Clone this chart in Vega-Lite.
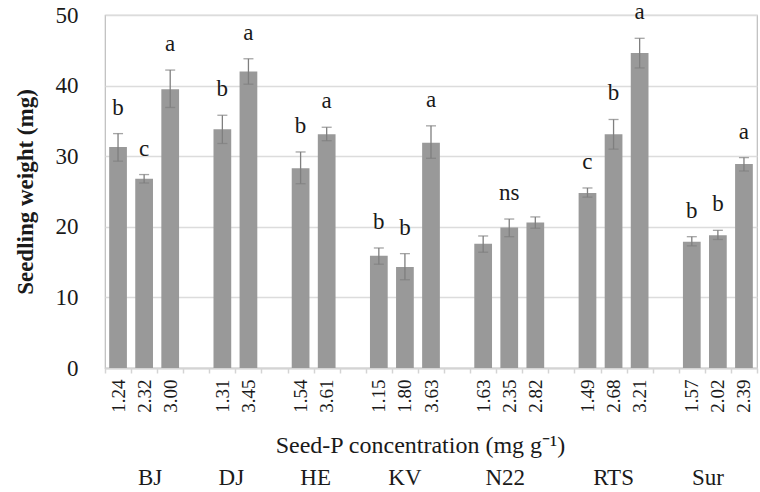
{
  "$schema": "https://vega.github.io/schema/vega-lite/v6.json",
  "width": 652,
  "height": 353,
  "autosize": {"type": "none"},
  "padding": {"left": 105, "top": 15, "right": 3, "bottom": 124},
  "background": "white",
  "config": {
    "view": {"stroke": "#bdbdbd", "strokeWidth": 1.2},
    "font": "Liberation Serif"
  },
  "data": {
    "values": [
      {"genotype": "BJ", "conc": "1.24", "weight": 31.3, "lower": 29.3, "upper": 33.2, "letter": "b"},
      {"genotype": "BJ", "conc": "2.32", "weight": 26.8, "lower": 26.2, "upper": 27.4, "letter": "c"},
      {"genotype": "BJ", "conc": "3.00", "weight": 39.5, "lower": 36.9, "upper": 42.2, "letter": "a"},
      {"genotype": "DJ", "conc": "1.31", "weight": 33.8, "lower": 31.8, "upper": 35.8, "letter": "b"},
      {"genotype": "DJ", "conc": "3.45", "weight": 42.0, "lower": 40.2, "upper": 43.8, "letter": "a"},
      {"genotype": "HE", "conc": "1.54", "weight": 28.3, "lower": 26.1, "upper": 30.6, "letter": "b"},
      {"genotype": "HE", "conc": "3.61", "weight": 33.1, "lower": 32.2, "upper": 34.1, "letter": "a"},
      {"genotype": "KV", "conc": "1.15", "weight": 15.9, "lower": 14.7, "upper": 17.0, "letter": "b"},
      {"genotype": "KV", "conc": "1.80", "weight": 14.3, "lower": 12.5, "upper": 16.2, "letter": "b"},
      {"genotype": "KV", "conc": "3.63", "weight": 31.9, "lower": 29.7, "upper": 34.3, "letter": "a"},
      {"genotype": "N22", "conc": "1.63", "weight": 17.6, "lower": 16.4, "upper": 18.7, "letter": ""},
      {"genotype": "N22", "conc": "2.35", "weight": 19.9, "lower": 18.6, "upper": 21.1, "letter": "ns"},
      {"genotype": "N22", "conc": "2.82", "weight": 20.6, "lower": 19.8, "upper": 21.4, "letter": ""},
      {"genotype": "RTS", "conc": "1.49", "weight": 24.8, "lower": 24.2, "upper": 25.5, "letter": "c"},
      {"genotype": "RTS", "conc": "2.68", "weight": 33.1, "lower": 31.0, "upper": 35.2, "letter": "b"},
      {"genotype": "RTS", "conc": "3.21", "weight": 44.6, "lower": 42.5, "upper": 46.7, "letter": "a"},
      {"genotype": "Sur", "conc": "1.57", "weight": 17.9, "lower": 17.3, "upper": 18.6, "letter": "b"},
      {"genotype": "Sur", "conc": "2.02", "weight": 18.8, "lower": 18.2, "upper": 19.5, "letter": "b"},
      {"genotype": "Sur", "conc": "2.39", "weight": 28.9, "lower": 27.9, "upper": 29.8, "letter": "a"}
    ]
  },
  "layer": [
    {
      "mark": {"type": "bar", "color": "#999999", "width": {"band": 0.68}},
      "encoding": {
        "x": {
          "field": "conc",
          "type": "nominal",
          "sort": null,
          "scale": {
            "domain": ["1.24", "2.32", "3.00", "g1", "1.31", "3.45", "g2", "1.54", "3.61", "g3", "1.15", "1.80", "3.63", "g4", "1.63", "2.35", "2.82", "g5", "1.49", "2.68", "3.21", "g6", "1.57", "2.02", "2.39"],
            "paddingInner": 0,
            "paddingOuter": 0
          },
          "axis": {
            "orient": "bottom",
            "title": "Seed-P concentration (mg g⁻¹)",
            "titleFont": "Liberation Serif",
            "titleColor": "#1a1a1a",
            "titleFontSize": 24,
            "titleFontWeight": "normal",
            "titleBaseline": "alphabetic",
            "titleX": 315,
            "titleY": 84,
            "labelFont": "Liberation Serif",
            "labelColor": "#1a1a1a",
            "labelExpr": "substring(datum.label, 0, 1) == 'g' ? '' : datum.label",
            "labelAngle": -90,
            "labelFontSize": 19,
            "labelPadding": 6,
            "labelOverlap": false,
            "tickBand": "extent",
            "tickSize": 5,
            "tickColor": "#d4d4d4",
            "tickWidth": 1.5,
            "domainColor": "#d4d4d4",
            "domainWidth": 2
          }
        },
        "y": {
          "field": "weight",
          "type": "quantitative",
          "scale": {"domain": [0, 50], "nice": false},
          "axis": {
            "values": [0, 10, 20, 30, 40, 50],
            "title": "Seedling weight (mg)",
            "titleFont": "Liberation Serif",
            "titleColor": "#1a1a1a",
            "titleFontSize": 23,
            "titleFontWeight": "bold",
            "titlePadding": 18,
            "labelFont": "Liberation Serif",
            "labelColor": "#1a1a1a",
            "labelFontSize": 23,
            "labelPadding": 27,
            "ticks": false,
            "domain": false,
            "grid": true,
            "gridColor": "#dcdcdc",
            "gridWidth": 1.5
          }
        }
      }
    },
    {
      "mark": {"type": "rule", "color": "#7f7f7f", "strokeWidth": 1.3},
      "encoding": {
        "x": {
          "field": "conc", "type": "nominal", "sort": null,
          "scale": {
            "domain": ["1.24", "2.32", "3.00", "g1", "1.31", "3.45", "g2", "1.54", "3.61", "g3", "1.15", "1.80", "3.63", "g4", "1.63", "2.35", "2.82", "g5", "1.49", "2.68", "3.21", "g6", "1.57", "2.02", "2.39"],
            "paddingInner": 0, "paddingOuter": 0
          },
          "axis": null
        },
        "y": {"field": "lower", "type": "quantitative"},
        "y2": {"field": "upper"}
      }
    },
    {
      "mark": {"type": "tick", "color": "#7f7f7f", "thickness": 1.3, "size": 10},
      "encoding": {
        "x": {
          "field": "conc", "type": "nominal", "sort": null,
          "scale": {
            "domain": ["1.24", "2.32", "3.00", "g1", "1.31", "3.45", "g2", "1.54", "3.61", "g3", "1.15", "1.80", "3.63", "g4", "1.63", "2.35", "2.82", "g5", "1.49", "2.68", "3.21", "g6", "1.57", "2.02", "2.39"],
            "paddingInner": 0, "paddingOuter": 0
          },
          "axis": null
        },
        "y": {"field": "lower", "type": "quantitative"}
      }
    },
    {
      "mark": {"type": "tick", "color": "#7f7f7f", "thickness": 1.3, "size": 10},
      "encoding": {
        "x": {
          "field": "conc", "type": "nominal", "sort": null,
          "scale": {
            "domain": ["1.24", "2.32", "3.00", "g1", "1.31", "3.45", "g2", "1.54", "3.61", "g3", "1.15", "1.80", "3.63", "g4", "1.63", "2.35", "2.82", "g5", "1.49", "2.68", "3.21", "g6", "1.57", "2.02", "2.39"],
            "paddingInner": 0, "paddingOuter": 0
          },
          "axis": null
        },
        "y": {"field": "upper", "type": "quantitative"}
      }
    },
    {
      "mark": {"type": "text", "font": "Liberation Serif", "fontSize": 23, "color": "#1a1a1a", "baseline": "alphabetic", "dy": -19},
      "encoding": {
        "x": {
          "field": "conc", "type": "nominal", "sort": null,
          "scale": {
            "domain": ["1.24", "2.32", "3.00", "g1", "1.31", "3.45", "g2", "1.54", "3.61", "g3", "1.15", "1.80", "3.63", "g4", "1.63", "2.35", "2.82", "g5", "1.49", "2.68", "3.21", "g6", "1.57", "2.02", "2.39"],
            "paddingInner": 0, "paddingOuter": 0
          },
          "axis": {
            "orient": "bottom",
            "title": null,
            "domain": false,
            "ticks": false,
            "grid": false,
            "labelFont": "Liberation Serif",
            "labelColor": "#1a1a1a",
            "labelAngle": 0,
            "labelAlign": "center",
            "labelBaseline": "alphabetic",
            "labelFontSize": 23,
            "labelPadding": 116,
            "labelOverlap": false,
            "labelExpr": "datum.value == '2.32' ? 'BJ' : datum.value == '1.31' ? 'DJ' : datum.value == '1.54' ? 'HE' : datum.value == '1.80' ? 'KV' : datum.value == '2.35' ? 'N22' : datum.value == '2.68' ? 'RTS' : datum.value == '2.02' ? 'Sur' : ''",
            "labelOffset": {"expr": "datum.value == '2.32' ? 6 : datum.value == '1.31' ? 9 : datum.value == '1.54' ? 15 : datum.value == '2.35' ? -4 : datum.value == '2.02' ? -10 : 0"}
          }
        },
        "y": {"field": "upper", "type": "quantitative"},
        "text": {"field": "letter"}
      }
    }
  ],
  "resolve": {"axis": {"x": "independent"}}
}
